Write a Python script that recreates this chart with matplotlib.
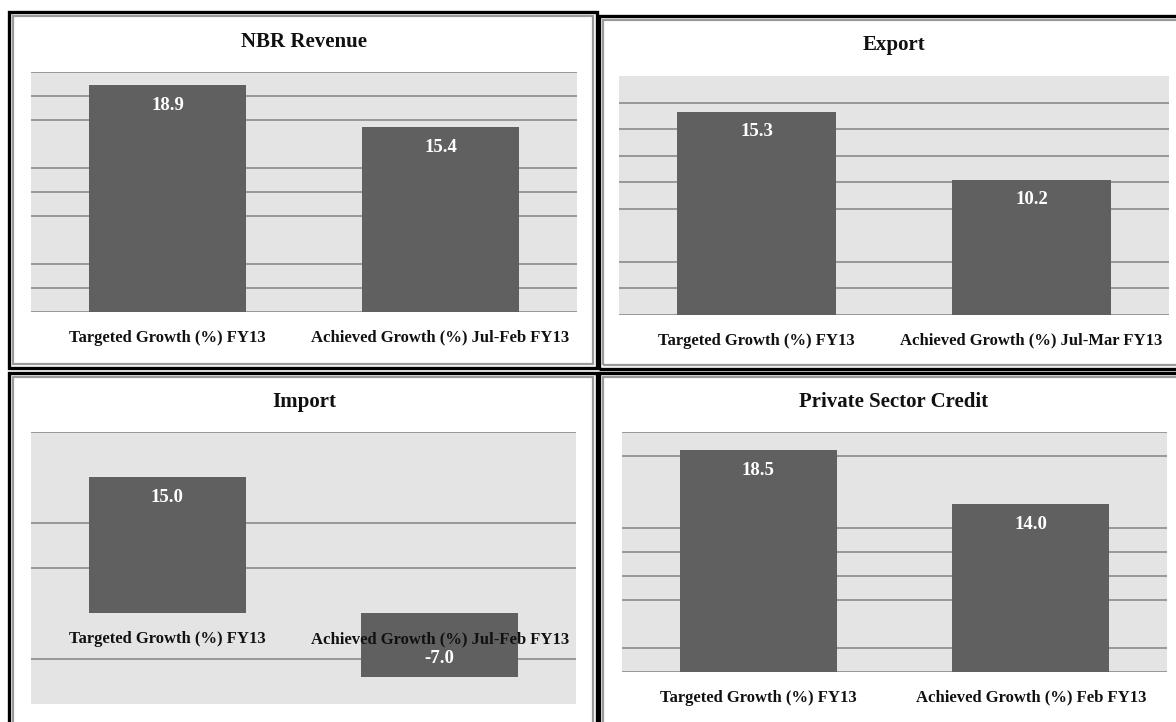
import matplotlib
matplotlib.use("Agg")
import matplotlib.pyplot as plt
from matplotlib.patches import Rectangle

W, H = 1176, 722
DPI = 100

# ---------------- data ----------------
titles = ["NBR Revenue", "Export", "Import", "Private Sector Credit"]
cat_first = "Targeted Growth (%) FY13"
cats_nbr = [cat_first, "Achieved Growth (%) Jul-Feb FY13"]
cats_export = [cat_first, "Achieved Growth (%) Jul-Mar FY13"]
cats_import = [cat_first, "Achieved Growth (%) Jul-Feb FY13"]
cats_psc = [cat_first, "Achieved Growth (%) Feb FY13"]

vals_nbr = [18.9, 15.4]
vals_export = [15.3, 10.2]
vals_import = [15.0, -7.0]
vals_psc = [18.5, 14.0]

ylim_nbr = (0, 20)
ylim_export = (0, 18)
ylim_import = (-10, 20)
ylim_psc = (0, 20)

grid_nbr = [0, 2, 4, 8, 10, 12, 16, 18, 20]
grid_export = [0, 2, 4, 8, 10, 12, 14, 16]
grid_import = [-5, 5, 10, 20]
grid_psc = [0, 2, 6, 8, 10, 12, 18, 20]

# ---------------- style ----------------
FONT = "Liberation Serif"
BAR = "#606060"
BG = "#e4e4e4"
GRID = "#929292"

fig = plt.figure(figsize=(W / DPI, H / DPI), dpi=DPI)
fig.patch.set_facecolor("white")


def frac_rect(x0, y0, x1, y1):
    return [x0 / W, 1 - y1 / H, (x1 - x0) / W, (y1 - y0) / H]


def border(x0, y0, x1, y1):
    fig.patches.append(Rectangle((x0 / W, 1 - y1 / H), (x1 - x0) / W, (y1 - y0) / H,
                                 transform=fig.transFigure, fill=False,
                                 edgecolor="black", linewidth=2.4, zorder=5))
    d = 4
    fig.patches.append(Rectangle(((x0 + d) / W, 1 - (y1 - d) / H), (x1 - x0 - 2 * d) / W,
                                 (y1 - y0 - 2 * d) / H,
                                 transform=fig.transFigure, fill=False,
                                 edgecolor="#9a9a9a", linewidth=1.6, zorder=5))


panels = [
    # title, cats, vals, ylim, grid, axes rect(px), border(px), title(x,y px)
    (titles[0], cats_nbr, vals_nbr, ylim_nbr, grid_nbr, (31, 72, 577, 312), (9, 12, 597, 368), (304, 42)),
    (titles[1], cats_export, vals_export, ylim_export, grid_export, (619, 76, 1169, 315), (599, 16, 1182, 369), (894, 45)),
    (titles[2], cats_import, vals_import, ylim_import, grid_import, (31, 432, 576, 704), (9, 373, 597, 730), (304, 402)),
    (titles[3], cats_psc, vals_psc, ylim_psc, grid_psc, (622, 432, 1167, 672), (599, 373, 1182, 730), (894, 402)),
]

for title, cats, vals, ylim, grid, arect, brect, tpos in panels:
    border(*brect)
    ax = fig.add_axes(frac_rect(*arect))
    ax.set_facecolor(BG)
    x = list(range(len(cats)))
    ax.bar(x, vals, width=0.575, color=BAR, zorder=3)
    ax.set_xlim(-0.5, len(cats) - 0.5)
    ax.set_ylim(*ylim)
    ax.set_yticks(grid)
    ax.set_yticklabels([])
    ax.set_xticks([])
    ax.tick_params(axis="y", length=0)
    ax.yaxis.grid(True, color=GRID, linewidth=1.3)
    ax.set_axisbelow(True)
    for s in ax.spines.values():
        s.set_visible(False)
    for xi, v, c in zip(x, vals, cats):
        off = -14.5 if v >= 0 else 13.5
        ax.annotate(f"{v:.1f}", xy=(xi, v), xytext=(0, off), textcoords="offset points",
                    ha="center", va="center", color="white", fontsize=13.5,
                    fontweight="bold", family=FONT, zorder=4)
        ax.annotate(c, xy=(xi, 0), xytext=(0, -18.5), textcoords="offset points",
                    ha="center", va="center", color="#111111", fontsize=12,
                    fontweight="bold", family=FONT, zorder=4, annotation_clip=False)
    fig.text(tpos[0] / W, 1 - tpos[1] / H, title, ha="center", va="center",
             fontsize=15, fontweight="bold", family=FONT, color="#111111")

fig.savefig("out.png", dpi=DPI, facecolor="white")
